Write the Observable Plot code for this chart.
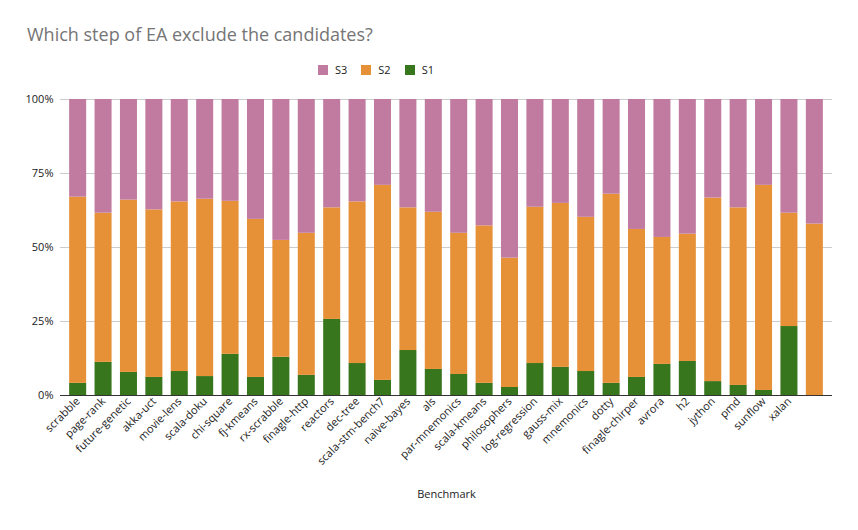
<!DOCTYPE html>
<html>
<head>
<meta charset="utf-8">
<script src="https://cdn.jsdelivr.net/npm/d3@7"></script>
<script src="https://cdn.jsdelivr.net/npm/@observablehq/plot@0.6"></script>
<style>
  html, body { margin: 0; padding: 0; background: #fff; }
  #wrap { position: relative; width: 858px; height: 530px; font-family: "Open Sans", sans-serif; }
  #title { position: absolute; left: 27px; top: 22px; font-size: 18px; color: #757575; font-family: "Open Sans", sans-serif; white-space: nowrap; }
  #legend { position: absolute; left: 318px; top: 62px; display: flex; align-items: center; font-size: 11px; color: #222; }
  #legend .item { display: flex; align-items: center; margin-right: 14px; }
  #legend .sw { width: 10px; height: 10px; margin-right: 7px; }
  #chart { position: absolute; left: 0; top: 80px; }
</style>
</head>
<body>
<div id="wrap">
  <div id="title">Which step of EA exclude the candidates?</div>
  <div id="legend"></div>
  <div id="chart"></div>
</div>
<script>
const benchmarks = ["scrabble","page-rank","future-genetic","akka-uct","movie-lens","scala-doku","chi-square","fj-kmeans","rx-scrabble","finagle-http","reactors","dec-tree","scala-stm-bench7","naive-bayes","als","par-mnemonics","scala-kmeans","philosophers","log-regression","gauss-mix","mnemonics","dotty","finagle-chirper","avrora","h2","jython","pmd","sunflow","xalan"," "];
const s1 = [4.1,11.2,7.8,6.1,8.1,6.4,13.9,6.1,12.9,6.8,25.7,10.8,5.1,15.2,8.8,7.1,4.1,2.7,10.8,9.5,8.1,4.1,6.1,10.5,11.5,4.7,3.4,1.7,23.3,0];
const s2 = [62.9,50.4,58.2,56.6,57.3,59.9,51.7,53.4,39.5,48.0,37.7,54.6,65.9,48.2,53.1,47.7,53.2,43.7,52.8,55.4,52.1,63.9,50.0,42.9,43.0,62.0,60.0,69.3,38.3,57.9];
const s3 = [33.0,38.4,34.0,37.3,34.6,33.7,34.4,40.5,47.6,45.2,36.6,34.6,29.0,36.6,38.1,45.2,42.7,53.6,36.4,35.1,39.8,32.0,43.9,46.6,45.5,33.3,36.6,29.0,38.4,42.1];
const seriesNames = ["S3","S2","S1"];
const seriesColors = ["#c27ba0","#e69138","#38761d"];
const yTicks = [0,25,50,75,100];

const rows = [];
benchmarks.forEach((b, i) => {
  rows.push({benchmark: b, series: "S1", value: s1[i]});
  rows.push({benchmark: b, series: "S2", value: s2[i]});
  rows.push({benchmark: b, series: "S3", value: s3[i]});
});

const legend = document.getElementById("legend");
seriesNames.forEach((s, i) => {
  const it = document.createElement("div");
  it.className = "item";
  it.innerHTML = `<span class="sw" style="background:${seriesColors[i]}"></span><span>${s}</span>`;
  legend.appendChild(it);
});

const chart = Plot.plot({
  width: 858,
  height: 450,
  marginTop: 19,
  marginLeft: 60,
  marginRight: 26,
  marginBottom: 135,
  style: {fontFamily: "Open Sans, sans-serif", fontSize: "11px", color: "#222"},
  x: {domain: benchmarks, round: false, paddingInner: 0.33, paddingOuter: 0.36, label: "Benchmark", labelAnchor: "center", labelOffset: 102, tickSize: 0, tickRotate: -45, tickPadding: 4, tickFormat: d => d.trim()},
  y: {domain: [0, 100], ticks: yTicks, tickFormat: d => d + "%", tickSize: 0, tickPadding: 7, label: null},
  color: {domain: seriesNames, range: seriesColors},
  marks: [
    Plot.ruleY(yTicks, {stroke: "#cccccc", strokeWidth: 1}),
    Plot.barY(rows, {x: "benchmark", y: "value", fill: "series", order: ["S1","S2","S3"], insetLeft: 0, insetRight: 0}),
    Plot.ruleY([0], {stroke: "#333333", strokeWidth: 1})
  ]
});
document.getElementById("chart").appendChild(chart);
</script>
</body>
</html>
